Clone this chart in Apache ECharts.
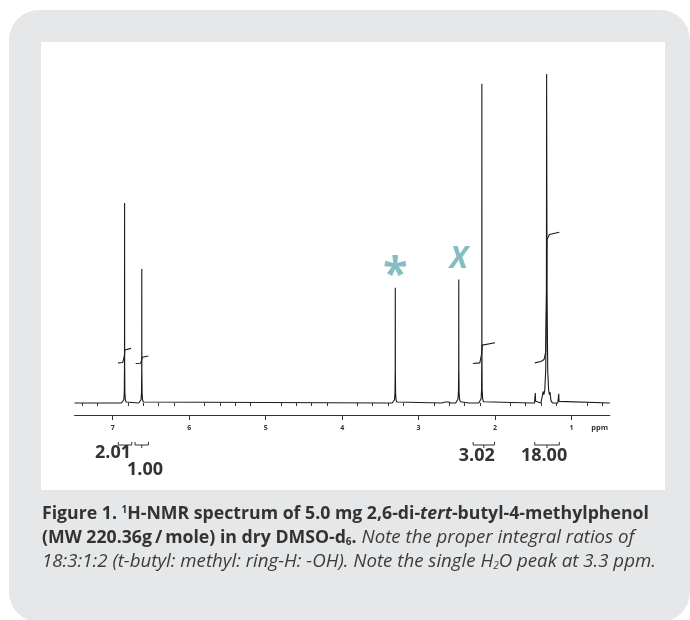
<!DOCTYPE html>
<html><head><meta charset="utf-8">
<script src="https://cdn.jsdelivr.net/npm/echarts@6/dist/echarts.min.js"></script>
<style>html,body{margin:0;padding:0;background:#fff}#c{width:690px;height:620px}</style>
</head><body><div id="c"></div>
<script>
// ---------- DATA ----------
// spectrum trace: [ppm, relative intensity]
const spectrum = [
  [7.5,0],[7.0,0],
  [6.885,0],[6.865,0.3],[6.855,1.0],[6.849,3],[6.846,12],[6.845,60.8],[6.844,12],[6.841,3],[6.835,1.0],[6.825,0.3],[6.805,0],
  [6.66,0],[6.64,0.3],[6.63,1.0],[6.624,3],[6.621,10],[6.620,40.7],[6.619,10],[6.616,3],[6.61,1.0],[6.60,0.3],[6.58,0],
  [3.4,0],
  [3.345,0],[3.325,0.3],[3.315,1.0],[3.309,3],[3.306,10],[3.305,35.0],[3.304,10],[3.301,3],[3.295,1.0],[3.285,0.3],[3.265,0],
  [2.70,0],[2.65,0.3],[2.63,0.6],[2.61,0.3],[2.58,0],
  [2.515,0],[2.495,0.4],[2.485,1.2],[2.479,3.5],[2.476,11],[2.475,37.5],[2.474,11],[2.471,3.5],[2.465,1.2],[2.455,0.4],[2.435,0],
  [2.34,0],[2.32,0.5],[2.30,0],
  [2.213,0],[2.193,0.4],[2.183,1.3],[2.177,4],[2.174,15],[2.173,97.0],[2.172,15],[2.169,4],[2.163,1.3],[2.153,0.4],[2.133,0],
  [1.52,0],
  [1.485,0],[1.478,0.5],[1.474,3.0],[1.470,0.5],[1.463,0],
  [1.40,0],[1.385,0.6],[1.372,3.5],[1.362,2.5],[1.35,4],[1.338,10],[1.329,35],[1.326,100],[1.324,100],[1.321,35],[1.312,10],[1.30,4],[1.29,2.5],[1.282,3.3],[1.27,0.8],[1.25,0],
  [1.18,0],[1.172,0.5],[1.168,2.8],[1.164,0.5],[1.157,0],
  [0.5,0]
];
// integral traces (one per integrated region)
const integral1 = [[6.93,12.2],[6.87,12.3],[6.856,12.8],[6.848,14.3],[6.842,16.1],[6.832,16.5],[6.76,16.6]];
const integral2 = [[6.70,12.0],[6.635,12.1],[6.625,12.6],[6.62,13.2],[6.615,13.9],[6.605,14.2],[6.535,14.3]];
const integral3 = [[2.29,12.0],[2.20,12.2],[2.182,12.8],[2.175,15.0],[2.168,17.6],[2.155,18.2],[2.00,18.3]];
const integral4 = [[1.48,12.2],[1.40,12.6],[1.36,13.2],[1.338,15.5],[1.328,30],[1.322,49.6],[1.29,51.2],[1.16,51.9]];
// integral brackets under the axis: [from ppm, to ppm]
const integralRanges = [[6.927,6.751],[6.708,6.533],[2.287,2.007],[1.482,1.160]];
const integralValues = ['2.01','1.00','3.02','18.00'];
const integralLabelPpm = [6.996,6.577,2.24,1.36];
// annotated peaks: [ppm, intensity, mark]
const peakMarks = [[3.305,35.0,'*'],[2.475,37.5,'X']];
// axis ticks
const tickValues = [1,2,3,4,5,6,7];
const minorTickValues = [0.6,0.8,1.2,1.4,1.6,1.8,2.2,2.4,2.6,2.8,3.2,3.4,3.6,3.8,4.2,4.4,4.6,4.8,5.2,5.4,5.6,5.8,6.2,6.4,6.6,6.8,7.2,7.4];
const unitLabel = 'ppm';

// ---------- CHART ----------
const FONT = 'Open Sans';
const INK = '#1a1a1a';
const TEXT = '#333333';
const TEAL = '#68adb3';
const chart = echarts.init(document.getElementById('c'), null, {renderer:'canvas'});

function lineSeries(data){
  return {type:'line', data, showSymbol:false, symbol:'none', animation:false, silent:true,
    lineStyle:{color:INK, width:1.1}, z:3, clip:false};
}
const markStyles = {
  '*': {fontSize:45, fontWeight:'bold', fontStyle:'normal', offset:[0,-12]},
  'X': {fontSize:30, fontWeight:'bold', fontStyle:'italic', offset:[0,-20]}
};

const option = {
  backgroundColor:'#ffffff',
  animation:false,
  grid:{left:74.5, right:80.2, top:74, bottom:205, containLabel:false},
  xAxis:[{
    type:'value', min:0.5, max:7.5, inverse:true, position:'bottom',
    axisLine:{onZero:false, lineStyle:{color:'#333', width:1}},
    axisTick:{customValues:tickValues, length:5, lineStyle:{color:'#333', width:1}},
    axisLabel:{customValues:tickValues, fontSize:7, fontWeight:'bold', color:TEXT, margin:9, fontFamily:FONT},
    splitLine:{show:false}
  },{
    type:'value', min:0.5, max:7.5, inverse:true, position:'bottom',
    axisLine:{show:false},
    axisTick:{customValues:minorTickValues, length:3, lineStyle:{color:'#333', width:1}},
    axisLabel:{show:false}, splitLine:{show:false}
  }],
  yAxis:{type:'value', min:-3.65, max:100, show:false},
  series:[
    lineSeries(spectrum),
    lineSeries(integral1), lineSeries(integral2), lineSeries(integral3), lineSeries(integral4),
    {type:'scatter', symbolSize:0, silent:true, clip:false, z:4,
     data: peakMarks.map(m => {
       const s = markStyles[m[2]];
       return {value:[m[0], m[1]], label:{show:true, position:'inside', formatter:m[2],
         color:TEAL, fontFamily:FONT, fontSize:s.fontSize, fontWeight:s.fontWeight, fontStyle:s.fontStyle,
         offset:s.offset}};
     })}
  ],
  graphic:[]
};
chart.setOption(option);

// ---------- decorations placed through the axis scale ----------
const toX = v => chart.convertToPixel({xAxisIndex:0}, v);
const bracketTop = 442, bracketLine = 445;
const labelY = [453, 470, 456, 456];

const g = [];
g.push({type:'rect', z:-20, shape:{x:9, y:10, width:681, height:612, r:30}, style:{fill:'#e6e7e8'}});
g.push({type:'rect', z:-19, shape:{x:41, y:42, width:624, height:448}, style:{fill:'#ffffff'}});

integralRanges.forEach((r, i) => {
  const x1 = toX(r[0]), x2 = toX(r[1]), xm = (x1 + x2) / 2;
  g.push({type:'polyline', z:5, shape:{points:[[x1,bracketTop],[x1,bracketLine],[x2,bracketLine],[x2,bracketTop]]},
    style:{stroke:'#333', lineWidth:1, fill:null}});
  g.push({type:'line', z:5, shape:{x1:xm, y1:bracketLine, x2:xm, y2:bracketLine+3}, style:{stroke:'#333', lineWidth:1}});
  g.push({type:'text', z:6, x:toX(integralLabelPpm[i]), y:labelY[i],
    style:{text:integralValues[i], font:'bold 18px "Open Sans"', fill:TEXT, align:'center', verticalAlign:'middle'}});
});
g.push({type:'text', z:6, x:toX(0.633), y:428,
  style:{text:unitLabel, font:'bold 7.5px "Open Sans"', fill:TEXT, align:'center', verticalAlign:'middle'}});

const bs = 17.7, is = 18.7;
const rich = {
  b:{fontFamily:FONT, fontWeight:'bold', fontSize:bs, fill:TEXT},
  bi:{fontFamily:FONT, fontWeight:'bold', fontStyle:'italic', fontSize:bs, fill:TEXT},
  i:{fontFamily:FONT, fontStyle:'italic', fontSize:is, fill:'#3c3c3c'},
  sup:{fontFamily:FONT, fontWeight:'bold', fontSize:10, fill:TEXT, verticalAlign:'top'},
  bsub:{fontFamily:FONT, fontWeight:'bold', fontSize:10, fill:TEXT, verticalAlign:'bottom'},
  isub:{fontFamily:FONT, fontStyle:'italic', fontSize:10, fill:'#3c3c3c', verticalAlign:'bottom'}
};
const captionLines = [
  '{b|Figure 1. }{sup|1}{b|H-NMR spectrum of 5.0 mg 2,6-di-}{bi|tert}{b|-butyl-4-methylphenol}',
  '{b|(MW 220.36g\u2009/\u2009mole) in dry DMSO-d}{bsub|6}{b|.}{i| Note the proper integral ratios of}',
  '{i|18:3:1:2 (t-butyl: methyl: ring-H: -OH). Note the single H}{isub|2}{i|O peak at 3.3 ppm.}'
];
const captionY = [514, 538, 562];
captionLines.forEach((t, i) => {
  g.push({type:'text', z:6, x:42, y:captionY[i], style:{text:t, rich, align:'left', verticalAlign:'middle'}});
});
chart.setOption({graphic:g});
</script></body></html>
